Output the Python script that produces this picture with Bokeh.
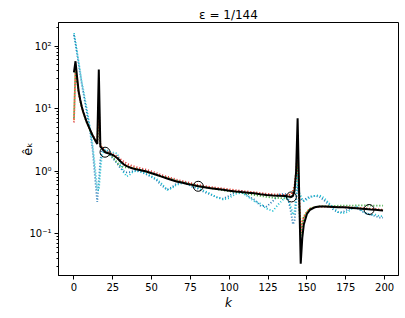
import numpy as np
from bokeh.plotting import figure
from bokeh.models import ColumnDataSource, FixedTicker, CustomJSTickFormatter, Range1d, LogTicker
from bokeh.embed import file_html
from bokeh.resources import INLINE

# ---------------- data ----------------
k_grid = [0, 1, 2, 3, 4, 5, 6, 8, 10, 12,
          14, 15, 16, 17, 18, 20, 22, 24, 26, 28,
          30, 32, 34, 36, 38, 40, 43, 46, 50, 53,
          56, 60, 63, 66, 70, 73, 76, 80, 84, 88,
          92, 96, 100, 104, 108, 112, 116, 120, 124, 128,
          132, 136, 138, 140, 141, 142, 143, 144, 145, 146,
          147, 148, 150, 152, 155, 158, 161, 164, 167, 170,
          173, 176, 179, 182, 185, 188, 191, 194, 197, 199]

e_black = [38, 57, 32, 19, 14, 10.8, 8.8, 6.3, 4.8, 3.7,
           3.0, 2.7, 42, 2.45, 2.3, 2.0, 1.92, 1.85, 1.74, 1.6,
           1.42, 1.28, 1.2, 1.14, 1.1, 1.07, 1.03, 0.99, 0.92, 0.87,
           0.82, 0.76, 0.72, 0.68, 0.65, 0.62, 0.6, 0.57, 0.55, 0.53,
           0.515, 0.50, 0.485, 0.472, 0.46, 0.45, 0.44, 0.425, 0.413, 0.407,
           0.402, 0.398, 0.39, 0.385, 0.4, 0.48, 0.95, 7.0, 0.45, 0.033,
           0.085, 0.14, 0.205, 0.24, 0.263, 0.27, 0.27, 0.268, 0.266, 0.264,
           0.262, 0.26, 0.257, 0.254, 0.25, 0.246, 0.242, 0.239, 0.236, 0.234]

e_orange = [6.5, 45, 28, 18, 13.5, 10.5, 8.6, 6.2, 4.7, 3.7,
            3.0, 2.9, 12, 2.6, 2.4, 2.05, 1.95, 1.86, 1.74, 1.6,
            1.45, 1.32, 1.23, 1.17, 1.12, 1.09, 1.05, 1.0, 0.93, 0.88,
            0.83, 0.77, 0.73, 0.69, 0.66, 0.63, 0.61, 0.58, 0.56, 0.54,
            0.525, 0.51, 0.495, 0.48, 0.467, 0.455, 0.445, 0.43, 0.418, 0.41,
            0.405, 0.405, 0.41, 0.43, 0.48, 0.6, 1.0, 2.0, 0.4, 0.12,
            0.16, 0.19, 0.225, 0.25, 0.265, 0.27, 0.27, 0.27, 0.268, 0.266,
            0.264, 0.262, 0.26, 0.257, 0.254, 0.25, 0.247, 0.244, 0.24, 0.238]

e_red = [6.0, 40, 27, 18, 13.5, 10.6, 8.7, 6.3, 4.8, 3.8,
         3.1, 2.9, 8, 2.6, 2.4, 2.1, 2.0, 1.92, 1.82, 1.7,
         1.55, 1.42, 1.32, 1.25, 1.2, 1.16, 1.11, 1.06, 0.99, 0.93,
         0.87, 0.81, 0.77, 0.73, 0.69, 0.66, 0.635, 0.6, 0.575, 0.555,
         0.54, 0.525, 0.51, 0.495, 0.48, 0.47, 0.458, 0.445, 0.432, 0.425,
         0.42, 0.415, 0.415, 0.42, 0.46, 0.55, 0.9, 1.6, 0.35, 0.1,
         0.15, 0.18, 0.215, 0.245, 0.262, 0.268, 0.27, 0.27, 0.268, 0.266,
         0.264, 0.262, 0.26, 0.258, 0.255, 0.252, 0.249, 0.246, 0.243, 0.24]

e_green = [7.0, 42, 28, 18, 13.5, 10.5, 8.6, 6.2, 4.7, 3.7,
           3.0, 2.8, 6, 2.5, 2.35, 2.05, 1.9, 1.75, 1.55, 1.35,
           1.2, 1.15, 1.14, 1.13, 1.11, 1.08, 1.04, 0.99, 0.92, 0.87,
           0.83, 0.78, 0.74, 0.7, 0.66, 0.63, 0.61, 0.58, 0.55, 0.53,
           0.51, 0.49, 0.475, 0.46, 0.445, 0.43, 0.415, 0.4, 0.385, 0.375,
           0.37, 0.365, 0.37, 0.38, 0.42, 0.5, 0.8, 1.5, 0.3, 0.09,
           0.14, 0.18, 0.22, 0.25, 0.265, 0.272, 0.275, 0.276, 0.277, 0.278,
           0.279, 0.28, 0.28, 0.281, 0.281, 0.281, 0.28, 0.28, 0.28, 0.28]

e_blue = [150, 110, 75, 52, 36, 25, 18, 9.5, 5.0, 2.2,
          0.6, 0.32, 0.7, 1.5, 2.2, 2.1, 1.95, 1.7, 1.5, 1.3,
          1.1, 1.0, 0.95, 0.96, 1.0, 1.02, 0.98, 0.9, 0.8, 0.72,
          0.6, 0.5, 0.55, 0.63, 0.66, 0.62, 0.56, 0.52, 0.46, 0.42,
          0.38, 0.36, 0.4, 0.47, 0.48, 0.4, 0.35, 0.28, 0.27, 0.33,
          0.42, 0.43, 0.36, 0.2, 0.14, 0.16, 0.3, 0.6, 0.38, 0.36,
          0.33, 0.34, 0.37, 0.39, 0.4, 0.39, 0.34, 0.29, 0.24, 0.22,
          0.22, 0.24, 0.26, 0.26, 0.23, 0.21, 0.2, 0.19, 0.18, 0.18]

e_cyan = [160, 115, 80, 56, 39, 27, 20, 10.5, 5.5, 2.6,
          0.9, 0.5, 0.49, 1.0, 1.8, 2.2, 2.1, 2.0, 1.95, 1.9,
          1.3, 0.95, 0.82, 0.88, 0.97, 1.0, 0.97, 0.92, 0.82, 0.75,
          0.65, 0.5, 0.53, 0.6, 0.64, 0.63, 0.58, 0.53, 0.48, 0.43,
          0.38, 0.35, 0.37, 0.43, 0.45, 0.39, 0.33, 0.3, 0.25, 0.23,
          0.3, 0.38, 0.34, 0.25, 0.2, 0.22, 0.4, 0.9, 0.45, 0.4,
          0.35, 0.33, 0.35, 0.38, 0.4, 0.41, 0.37, 0.31, 0.26, 0.22,
          0.21, 0.22, 0.25, 0.27, 0.24, 0.21, 0.2, 0.2, 0.19, 0.19]

k_marks = [20, 80, 140, 190]
e_marks = [2.0, 0.57, 0.385, 0.242]

x_ticks = [0, 25, 50, 75, 100, 125, 150, 175, 200]

FONT = "DejaVu Sans"

p = figure(width=400, height=312, y_axis_type="log",
           x_range=Range1d(-9.95, 208.95), y_range=Range1d(0.0213, 237.7),
           output_backend="svg", toolbar_location=None,
           min_border_left=58, min_border_right=2, min_border_top=22, min_border_bottom=37)

p.title.text = "ε = 1/144"
p.title.align = "center"
p.title.text_font = FONT
p.title.text_font_size = "12px"
p.title.text_font_style = "normal"
p.title.text_color = "black"
p.title.standoff = 2
p.title.offset = 0

src = ColumnDataSource(dict(k=k_grid, black=e_black, orange=e_orange, red=e_red,
                            green=e_green, blue=e_blue, cyan=e_cyan))

for col, color in [("blue", "#1f77b4"), ("orange", "#ff7f0e"), ("green", "#2ca02c"),
                   ("red", "#d62728"), ("cyan", "#17becf")]:
    p.line("k", col, source=src, line_color=color, line_width=1.8, line_dash="1 2")

p.line("k", "black", source=src, line_color="black", line_width=2)
p.scatter(k_marks, e_marks, size=10, marker="circle", fill_color=None,
          line_color="black", line_width=1)

# axes styling
p.xgrid.visible = False
p.ygrid.visible = False
p.outline_line_color = "black"
p.outline_line_width = 1
p.outline_line_alpha = 1

p.xaxis.ticker = FixedTicker(ticks=x_ticks)
p.xaxis.axis_label = "k"
p.yaxis.axis_label = "ê\u2096"
p.yaxis.ticker = LogTicker(num_minor_ticks=10)
p.yaxis.formatter = CustomJSTickFormatter(code="""
const e = Math.round(Math.log10(tick));
const sup = {'-':'\u207b','0':'\u2070','1':'\u00b9','2':'\u00b2','3':'\u00b3','4':'\u2074',
             '5':'\u2075','6':'\u2076','7':'\u2077','8':'\u2078','9':'\u2079'};
return '10' + String(e).split('').map(c => sup[c]).join('');
""")

for ax in (p.xaxis, p.yaxis):
    ax.major_label_text_font = FONT
    ax.major_label_text_font_size = "10px"
    ax.major_label_text_color = "black"
    ax.axis_label_text_font = FONT
    ax.axis_label_text_font_size = "12px"
    ax.axis_label_text_color = "black"
    ax.axis_line_color = "black"
    ax.major_tick_line_color = "black"
    ax.minor_tick_line_color = "black"
    ax.major_tick_in = 0
    ax.major_tick_out = 4
    ax.minor_tick_in = 0
    ax.minor_tick_out = 2
    ax.major_label_standoff = 3
    ax.axis_label_standoff = 2

p.yaxis.axis_label_text_font_size = "13px"
p.yaxis.axis_label_standoff = -9
p.xaxis.axis_label_text_font_style = "italic"
p.yaxis.axis_label_text_font_style = "normal"
p.xaxis.minor_tick_line_color = None

open("out.html", "w").write(file_html(p, INLINE))
